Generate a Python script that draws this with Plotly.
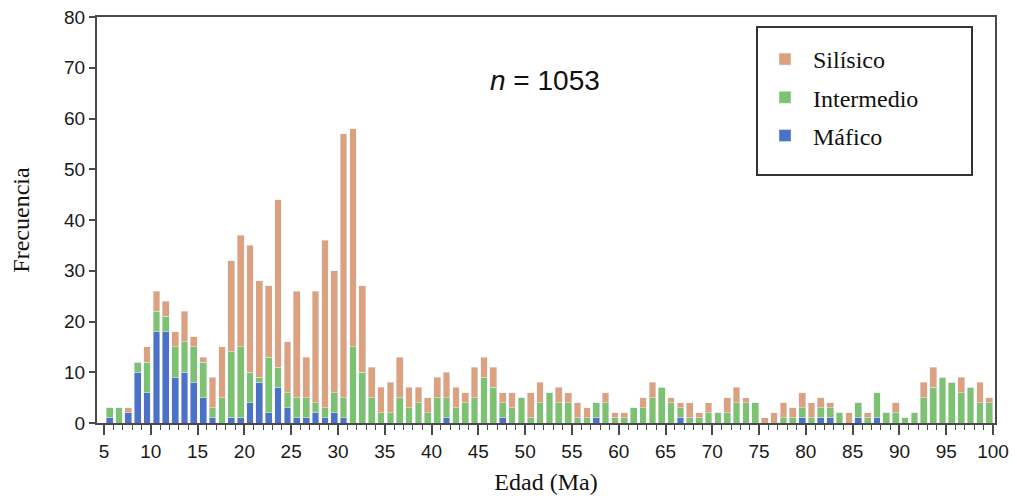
import plotly.graph_objects as go

# Age bins (Ma), each bar covers [age, age+1)
ages = list(range(5, 100))

mafico = [1, 0, 2, 10, 6, 18, 18, 9, 10, 8,
          5, 1, 0, 1, 1, 4, 8, 2, 7, 3,
          1, 1, 2, 1, 2, 1, 0, 0, 0, 0,
          0, 0, 0, 0, 0, 0, 1, 0, 0, 0,
          0, 0, 1, 0, 0, 0, 0, 0, 0, 0,
          0, 0, 1, 0, 0, 0, 0, 0, 0, 0,
          0, 1, 0, 0, 0, 0, 0, 0, 0, 0,
          0, 0, 0, 0, 1, 0, 1, 1, 0, 0,
          1, 0, 1, 0, 0, 0, 0, 0, 0, 0,
          0, 0, 0, 0, 0]

intermedio = [2, 3, 0, 2, 6, 4, 3, 6, 6, 7,
              7, 2, 5, 13, 14, 6, 1, 11, 4, 3,
              4, 4, 2, 2, 4, 4, 15, 10, 5, 2,
              2, 5, 3, 4, 2, 5, 4, 3, 4, 5,
              9, 7, 3, 3, 5, 1, 4, 6, 4, 4,
              1, 1, 3, 4, 1, 1, 3, 3, 5, 7,
              4, 2, 1, 1, 2, 2, 2, 4, 4, 4,
              0, 0, 1, 1, 2, 1, 2, 2, 2, 0,
              3, 1, 5, 2, 2, 1, 2, 5, 7, 9,
              8, 6, 7, 4, 4]

silisico = [0, 0, 1, 0, 3, 4, 3, 3, 6, 2,
            1, 6, 10, 18, 22, 25, 19, 14, 33, 10,
            21, 8, 22, 33, 24, 52, 43, 17, 6, 5,
            6, 8, 4, 3, 3, 4, 5, 4, 2, 6,
            4, 4, 2, 3, 0, 5, 4, 0, 3, 2,
            3, 2, 0, 2, 1, 1, 0, 2, 3, 0,
            1, 1, 3, 1, 2, 0, 3, 3, 1, 0,
            1, 2, 3, 2, 3, 3, 2, 1, 0, 2,
            0, 1, 0, 0, 2, 0, 0, 3, 4, 0,
            0, 3, 0, 4, 1]

x_ticks = list(range(5, 101, 5))
y_ticks = list(range(0, 81, 10))

bar_x = [a + 0.6 for a in ages]

c_sil = "#DCA280"
c_int = "#7DC271"
c_maf = "#4B72C6"

fig = go.Figure()
fig.add_trace(go.Bar(x=bar_x, y=mafico, name="Máfico", marker_color=c_maf,
                     width=0.72, legendgroup="maf", legendrank=3))
fig.add_trace(go.Bar(x=bar_x, y=intermedio, name="Intermedio", marker_color=c_int,
                     width=0.72, legendgroup="int", legendrank=2))
fig.add_trace(go.Bar(x=bar_x, y=silisico, name="Silísico", marker_color=c_sil,
                     width=0.72, legendgroup="sil", legendrank=1))

# page body adds an 8px offset; work in screen coords and convert
OFF = 8
W, H = 1017 - OFF, 496 - OFF
L, R, T, B = 97 - OFF, 995 - OFF, 17 - OFF, 423 - OFF
pw, ph = R - L, B - T

def px(xs):
    return (xs - OFF - L) / pw

def py(ys):
    return (B - (ys - OFF)) / ph

serif = "Times New Roman, Liberation Serif, serif"
sans = "Arial, Liberation Sans, sans-serif"
axcol = "#4a4a4a"

fig.update_layout(
    width=W, height=H,
    margin=dict(l=L, r=W - R, t=T, b=H - B, autoexpand=False),
    barmode="stack",
    plot_bgcolor="white", paper_bgcolor="white",
    font=dict(family=sans, color="#1a1a1a"),
    showlegend=True,
    legend=dict(
        x=px(757), y=py(37), xanchor="left", yanchor="top",
        traceorder="grouped", tracegroupgap=4,
        font=dict(family=serif, size=24, color="#111"),
        itemwidth=46, bgcolor="rgba(0,0,0,0)", borderwidth=0,
    ),
    xaxis=dict(
        range=[4.25, 100.21], tickvals=x_ticks, ticktext=[str(v) for v in x_ticks],
        ticks="outside", ticklen=10, tickwidth=1.5, tickcolor=axcol,
        minor=dict(dtick=1, tick0=5, ticks="outside", ticklen=5, tickwidth=1.2, tickcolor=axcol),
        showline=True, linecolor=axcol, linewidth=2, mirror=True,
        showgrid=False, zeroline=False, ticklabeloverflow="allow",
        tickfont=dict(family=sans, size=19, color="#1a1a1a"),
        title=dict(text="Edad (Ma)", font=dict(family=serif, size=24, color="#111"), standoff=12),
    ),
    yaxis=dict(
        range=[0, 80], tickvals=y_ticks,
        ticks="outside", ticklen=6, tickwidth=1.5, tickcolor=axcol,
        showline=True, linecolor=axcol, linewidth=2, mirror=True,
        showgrid=False, zeroline=False, ticklabeloverflow="allow",
        tickfont=dict(family=sans, size=19, color="#1a1a1a"),
        title=dict(text="Frecuencia", font=dict(family=serif, size=24, color="#111"), standoff=30),
    ),
    shapes=[dict(type="rect", xref="paper", yref="paper",
                 x0=px(757), x1=px(972), y0=py(175), y1=py(27),
                 line=dict(color="#333", width=2), fillcolor="rgba(0,0,0,0)")],
    annotations=[dict(text="<i>n</i> = 1053", xref="paper", yref="paper",
                      x=px(545), y=py(80), xanchor="center", yanchor="middle",
                      showarrow=False,
                      font=dict(family=sans, size=28, color="#111"))],
)

fig.write_html("out.html")
